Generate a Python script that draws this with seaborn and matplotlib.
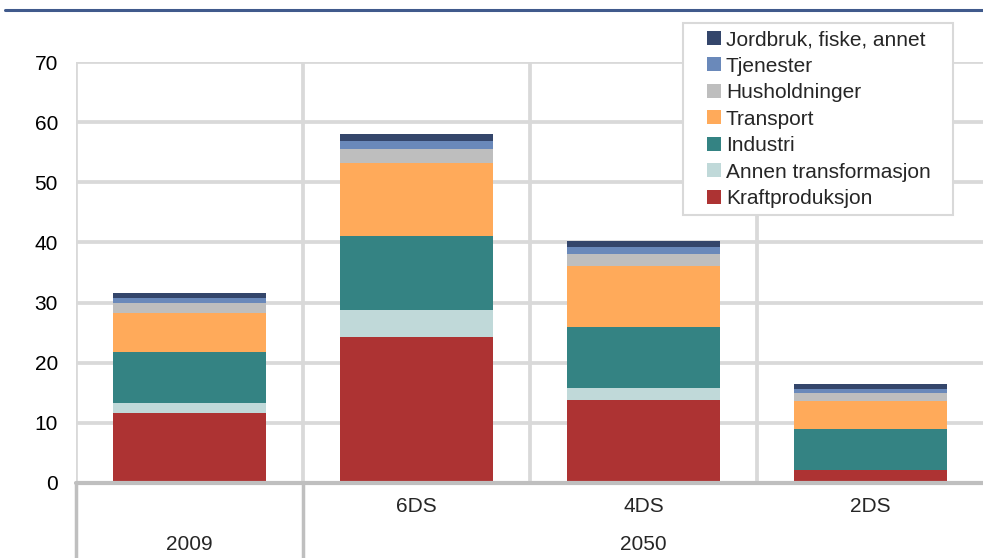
import numpy as np
import pandas as pd
import matplotlib.pyplot as plt
import matplotlib.transforms as mtransforms
from matplotlib.patches import Patch, Rectangle
import seaborn as sns

# Data (Gt CO2)
scenarios = ['2009', '6DS', '4DS', '2DS']
sectors = ['Kraftproduksjon', 'Annen transformasjon', 'Industri', 'Transport',
           'Husholdninger', 'Tjenester', 'Jordbruk, fiske, annet']
kraft = [11.7, 24.3, 13.8, 2.2]
annen = [1.6, 4.5, 2.0, 0.0]
industri = [8.4, 12.3, 10.1, 6.8]
transport = [6.5, 12.1, 10.2, 4.6]
husholdninger = [1.8, 2.4, 2.0, 1.4]
tjenester = [0.7, 1.3, 1.1, 0.7]
jordbruk = [0.9, 1.1, 1.0, 0.8]
yticks = [0, 10, 20, 30, 40, 50, 60, 70]

colors = ['#AD3333', '#C0D9D9', '#348383', '#FFAA5A',
          '#BEBEBE', '#6A89BA', '#34466B']

values = np.array([kraft, annen, industri, transport,
                   husholdninger, tjenester, jordbruk])
cum = np.cumsum(values, axis=0)

sns.set_theme(style='white')
plt.rcParams['font.family'] = ['Liberation Sans', 'DejaVu Sans']
FS = 15

fig = plt.figure(figsize=(9.83, 5.58), dpi=100)
W, H = 983, 558
ax = fig.add_axes([76 / W, 1 - 483 / H, (984 - 76) / W, (483 - 62) / H])

grid_c = '#D9D9D9'
for y in yticks[1:]:
    ax.axhline(y, color=grid_c, lw=2.7, zorder=1)
for x in [-0.5, 0.5, 1.5, 2.5]:
    ax.axvline(x, color=grid_c, lw=2.7, zorder=1)

# stacked bars: draw cumulative totals from the top layer down
for i in range(len(sectors) - 1, -1, -1):
    df = pd.DataFrame({'scenario': scenarios, 'value': cum[i]})
    sns.barplot(data=df, x='scenario', y='value', order=scenarios,
                color=colors[i], saturation=1, width=0.67, errorbar=None,
                edgecolor='none', linewidth=0, ax=ax, zorder=3)

ax.axhline(0, color='#BFBFBF', lw=3, zorder=4, clip_on=False)

ax.set_xlim(-0.5, 3.5)
ax.set_ylim(0, 70)
ax.set_yticks(yticks)
ax.set_yticklabels([str(v) for v in yticks])
ax.set_xticks([])
ax.set_xlabel('')
ax.set_ylabel('')
ax.tick_params(axis='y', length=0, pad=13, labelsize=FS, colors='black')
for s in ax.spines.values():
    s.set_visible(False)

# two-level category axis
trans = mtransforms.blended_transform_factory(ax.transData, ax.transAxes)
for x in [-0.5, 0.5]:
    ax.plot([x, x], [0, -0.2], transform=trans, color='#BFBFBF', lw=2.5,
            clip_on=False, zorder=4)
for j, lab in enumerate(scenarios[1:], start=1):
    ax.text(j, -0.057, lab, transform=trans, ha='center', va='center', fontsize=FS)
ax.text(0, -0.147, '2009', transform=trans, ha='center', va='center', fontsize=FS)
ax.text(2, -0.147, '2050', transform=trans, ha='center', va='center', fontsize=FS)

# title rule at top
fig.add_artist(plt.Line2D([5 / W, 1.0], [1 - 9.5 / H, 1 - 9.5 / H],
                          color='#405A8C', lw=2.2))

# legend with a manual frame
fig.add_artist(Rectangle((683 / W, 1 - 215 / H), 270 / W, 192 / H,
                         transform=fig.transFigure, facecolor='white',
                         edgecolor=grid_c, lw=1.5, zorder=4))
handles = [Patch(facecolor=colors[i], edgecolor='none', label=sectors[i])
           for i in range(len(sectors) - 1, -1, -1)]
leg = fig.legend(handles=handles, loc='upper left',
                 bbox_to_anchor=(692 / W, 1 - 15.5 / H), frameon=False,
                 fontsize=FS, handlelength=0.68, handleheight=0.68,
                 handletextpad=0.25, labelspacing=0.36, borderpad=0.2)
leg.set_zorder(6)

fig.savefig('out.png', dpi=100)
